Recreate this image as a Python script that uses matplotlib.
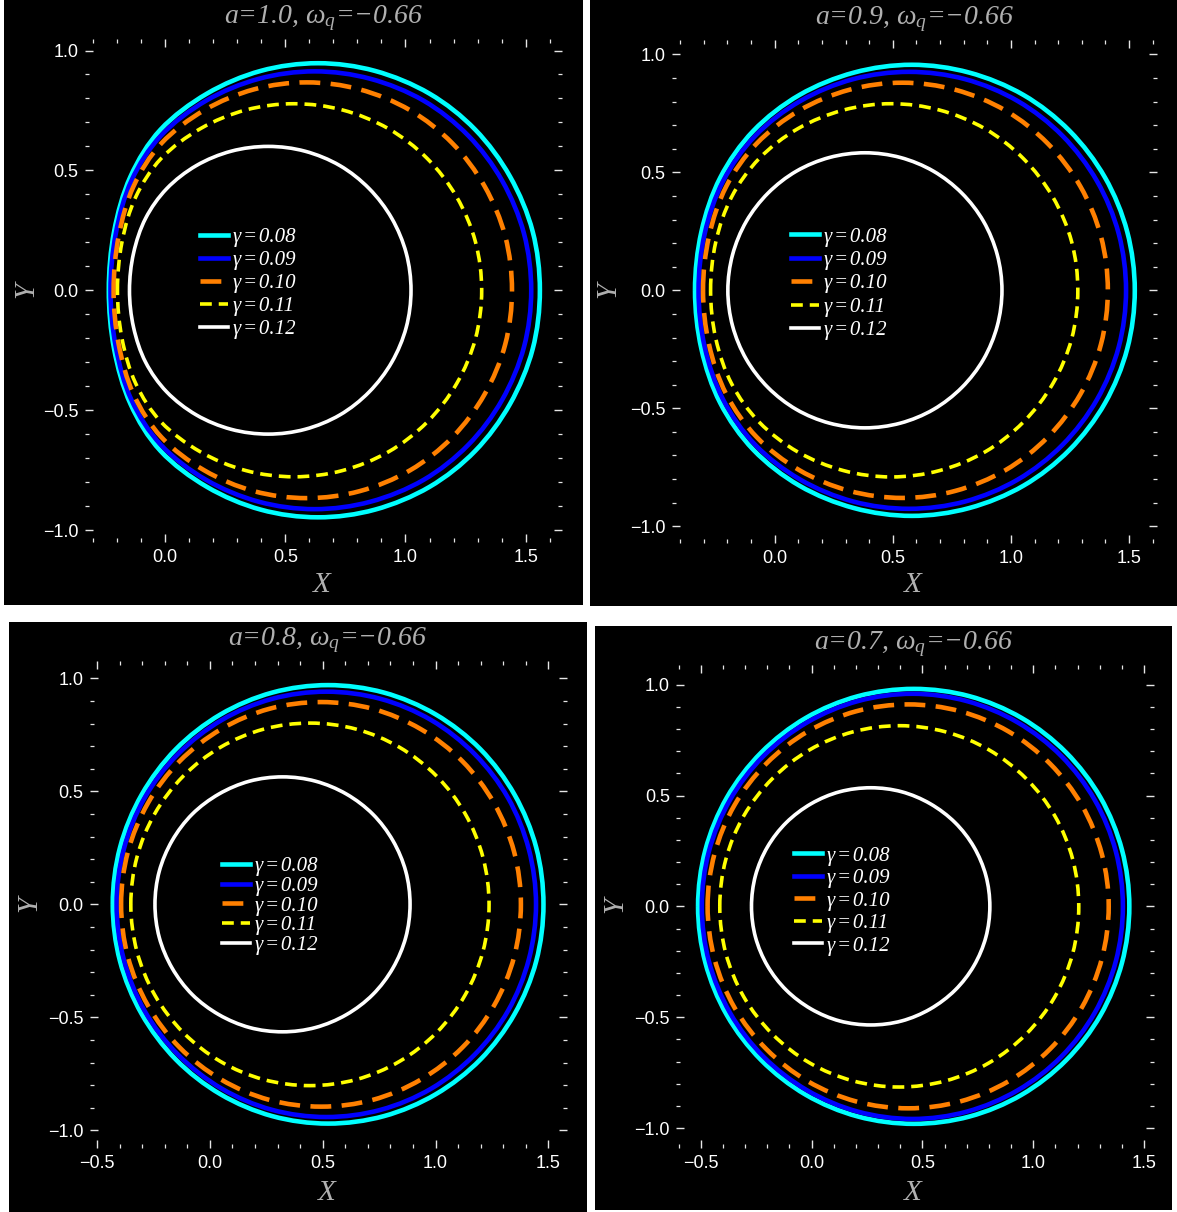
import matplotlib
matplotlib.use("Agg")
import matplotlib.pyplot as plt
from matplotlib.ticker import MultipleLocator, FuncFormatter
from matplotlib.font_manager import FontProperties
from matplotlib.patches import Rectangle, PathPatch
from matplotlib.path import Path
from matplotlib.lines import Line2D

plt.rcParams['mathtext.fontset'] = 'custom'
plt.rcParams['mathtext.rm'] = 'Liberation Serif:italic'
plt.rcParams['mathtext.it'] = 'Liberation Serif:italic'
plt.rcParams['lines.scale_dashes'] = False

# ---------------- data ----------------
gammas = ['0.08', '0.09', '0.10', '0.11', '0.12']
spins = ['1.0', '0.9', '0.8', '0.7']
omega_q = '\u22120.66'

# upper half (Y >= 0) of each shadow outline, from the rightmost to the leftmost point
a10_x = [
    [1.559, 1.529, 1.435, 1.290, 1.100, 0.873, 0.636, 0.398, 0.174, -0.019, -0.144, -0.212, -0.234],
    [1.523, 1.493, 1.402, 1.261, 1.075, 0.854, 0.622, 0.390, 0.171, -0.017, -0.140, -0.205, -0.227],
    [1.443, 1.415, 1.329, 1.195, 1.019, 0.809, 0.590, 0.370, 0.163, -0.015, -0.131, -0.193, -0.214],
    [1.317, 1.291, 1.213, 1.090, 0.929, 0.738, 0.537, 0.336, 0.147, -0.016, -0.122, -0.179, -0.198],
    [1.023, 1.003, 0.943, 0.849, 0.727, 0.582, 0.429, 0.275, 0.130, 0.007, -0.081, -0.131, -0.148],
]
a10_y = [
    [0, 0.245, 0.474, 0.670, 0.820, 0.915, 0.947, 0.915, 0.820, 0.670, 0.474, 0.245, 0],
    [0, 0.236, 0.457, 0.645, 0.791, 0.882, 0.913, 0.882, 0.791, 0.645, 0.457, 0.236, 0],
    [0, 0.225, 0.434, 0.613, 0.751, 0.838, 0.867, 0.838, 0.751, 0.613, 0.434, 0.225, 0],
    [0, 0.202, 0.389, 0.550, 0.674, 0.752, 0.778, 0.752, 0.674, 0.550, 0.389, 0.202, 0],
    [0, 0.155, 0.300, 0.424, 0.520, 0.580, 0.600, 0.580, 0.520, 0.424, 0.300, 0.155, 0],
]
a09_x = [
    [1.524, 1.492, 1.398, 1.248, 1.053, 0.823, 0.580, 0.336, 0.105, -0.090, -0.230, -0.310, -0.337],
    [1.487, 1.456, 1.364, 1.218, 1.029, 0.806, 0.569, 0.332, 0.108, -0.082, -0.218, -0.296, -0.322],
    [1.410, 1.381, 1.294, 1.156, 0.977, 0.765, 0.541, 0.316, 0.104, -0.076, -0.205, -0.278, -0.303],
    [1.283, 1.257, 1.177, 1.052, 0.890, 0.698, 0.494, 0.291, 0.098, -0.065, -0.182, -0.249, -0.271],
    [0.962, 0.942, 0.884, 0.792, 0.672, 0.532, 0.382, 0.232, 0.092, -0.028, -0.120, -0.178, -0.198],
]
a09_y = [
    [0, 0.248, 0.478, 0.676, 0.828, 0.923, 0.956, 0.923, 0.828, 0.676, 0.478, 0.248, 0],
    [0, 0.240, 0.463, 0.655, 0.802, 0.895, 0.926, 0.895, 0.802, 0.655, 0.463, 0.240, 0],
    [0, 0.228, 0.440, 0.622, 0.762, 0.850, 0.880, 0.850, 0.762, 0.622, 0.440, 0.228, 0],
    [0, 0.205, 0.396, 0.559, 0.685, 0.764, 0.791, 0.764, 0.685, 0.559, 0.396, 0.205, 0],
    [0, 0.151, 0.292, 0.412, 0.505, 0.563, 0.583, 0.563, 0.505, 0.412, 0.292, 0.151, 0],
]
a08_x = [
    [1.478, 1.446, 1.350, 1.199, 1.001, 0.771, 0.524, 0.277, 0.047, -0.151, -0.302, -0.398, -0.430],
    [1.445, 1.413, 1.321, 1.173, 0.981, 0.757, 0.516, 0.275, 0.052, -0.141, -0.289, -0.381, -0.413],
    [1.378, 1.348, 1.259, 1.119, 0.935, 0.722, 0.493, 0.263, 0.050, -0.134, -0.274, -0.363, -0.393],
    [1.237, 1.210, 1.131, 1.005, 0.840, 0.649, 0.444, 0.238, 0.047, -0.118, -0.244, -0.323, -0.350],
    [0.887, 0.868, 0.811, 0.722, 0.605, 0.468, 0.322, 0.176, 0.040, -0.078, -0.167, -0.224, -0.243],
]
a08_y = [
    [0, 0.251, 0.485, 0.686, 0.840, 0.937, 0.970, 0.937, 0.840, 0.686, 0.485, 0.251, 0],
    [0, 0.244, 0.471, 0.665, 0.815, 0.909, 0.941, 0.909, 0.815, 0.665, 0.471, 0.244, 0],
    [0, 0.232, 0.448, 0.633, 0.775, 0.865, 0.895, 0.865, 0.775, 0.633, 0.448, 0.232, 0],
    [0, 0.208, 0.401, 0.567, 0.695, 0.775, 0.802, 0.775, 0.695, 0.567, 0.401, 0.208, 0],
    [0, 0.146, 0.282, 0.399, 0.488, 0.545, 0.564, 0.545, 0.488, 0.399, 0.282, 0.146, 0],
]
a07_x = [
    [1.433, 1.400, 1.303, 1.148, 0.947, 0.712, 0.461, 0.209, -0.026, -0.227, -0.382, -0.479, -0.512],
    [1.404, 1.372, 1.277, 1.126, 0.929, 0.700, 0.455, 0.209, -0.020, -0.217, -0.368, -0.463, -0.495],
    [1.340, 1.309, 1.219, 1.075, 0.888, 0.670, 0.436, 0.201, -0.017, -0.204, -0.348, -0.438, -0.469],
    [1.205, 1.178, 1.097, 0.968, 0.800, 0.605, 0.396, 0.186, -0.009, -0.177, -0.306, -0.387, -0.414],
    [0.804, 0.786, 0.732, 0.647, 0.535, 0.406, 0.267, 0.127, -0.002, -0.114, -0.199, -0.253, -0.271],
]
a07_y = [
    [0, 0.254, 0.491, 0.694, 0.850, 0.948, 0.981, 0.948, 0.850, 0.694, 0.491, 0.254, 0],
    [0, 0.248, 0.480, 0.678, 0.830, 0.926, 0.959, 0.926, 0.830, 0.678, 0.480, 0.248, 0],
    [0, 0.236, 0.456, 0.644, 0.789, 0.880, 0.911, 0.880, 0.789, 0.644, 0.456, 0.236, 0],
    [0, 0.211, 0.408, 0.576, 0.706, 0.787, 0.815, 0.787, 0.706, 0.576, 0.408, 0.211, 0],
    [0, 0.139, 0.268, 0.378, 0.463, 0.517, 0.535, 0.517, 0.463, 0.378, 0.268, 0.139, 0],
]
panel_x = [a10_x, a09_x, a08_x, a07_x]
panel_y = [a10_y, a09_y, a08_y, a07_y]

# ---------------- styles & layout (pixels, top-left origin) ----------------
W, H = 1177, 1212
colors = ['#00ffff', '#0000ff', '#ff8000', '#ffff00', '#ffffff']
widths = [3.3, 3.3, 3.3, 2.6, 2.6]
dashes = [None, None, (15, 7.5), (8.5, 5), None]
text_gray = '#b0b0b0'

bg_boxes = [(4, 0, 583, 604.5), (590, 0, 1177, 606), (9, 622.3, 587.3, 1212), (594.7, 626, 1172, 1210)]
frames = [(85, 39, 562, 542), (671.6, 40, 1157, 543), (89.5, 660.7, 567.4, 1148), (676.1, 664.5, 1153.5, 1148)]
xlims = [(-0.333, 1.651), (-0.436, 1.618), (-0.533, 1.584), (-0.611, 1.542)]
ylims = [(-1.050, 1.048), (-1.071, 1.061), (-1.078, 1.078), (-1.090, 1.091)]
title_pos = [(323, 18), (914, 19), (327, 640), (913, 644)]
xlab_pos = [(322, 585), (913, 585), (327, 1193), (913, 1193)]
ylab_pos = [(26, 290), (608, 290), (29, 904), (615, 905)]
leg_pos = [(200, 227.5), (791, 227), (222, 856.5), (794, 846)]
leg_spacing = [0.163, 0.185, 0.01, 0.14]


def smooth_closed(px, py):
    """Smooth closed outline through the read points (drawn as cubic Bezier pieces)."""
    n = len(px)
    verts = [(px[0], py[0])]
    codes = [Path.MOVETO]
    for i in range(n):
        a, b, c, d = (i - 1) % n, i, (i + 1) % n, (i + 2) % n
        verts.append((px[b] + (px[c] - px[a]) / 6.0, py[b] + (py[c] - py[a]) / 6.0))
        verts.append((px[c] - (px[d] - px[b]) / 6.0, py[c] - (py[d] - py[b]) / 6.0))
        verts.append((px[c], py[c]))
        codes += [Path.CURVE4] * 3
    return Path(verts, codes)


fig = plt.figure(figsize=(W / 100, H / 100), dpi=100, facecolor='white')

for (l, t, r, b) in bg_boxes:
    fig.patches.append(Rectangle((l / W, 1 - b / H), (r - l) / W, (b - t) / H,
                                 transform=fig.transFigure, facecolor='black',
                                 edgecolor='none', zorder=-5))

fmt = FuncFormatter(lambda v, p: ('%.1f' % (0.0 if abs(v) < 1e-9 else v)).replace('-', '\u2212'))
leg_font = FontProperties(family='Liberation Serif', style='italic', size=15)

for k in range(4):
    l, t, r, b = frames[k]
    ax = fig.add_axes([l / W, 1 - b / H, (r - l) / W, (b - t) / H])
    ax.set_facecolor('black')
    for s in ax.spines.values():
        s.set_visible(False)
    handles = []
    for i in range(5):
        xs = panel_x[k][i]
        ys = panel_y[k][i]
        # closed outline: upper half (mirror-symmetric about Y=0) + lower half
        cx = xs[::-1] + xs[1:-1]
        cy = ys[::-1] + [-v for v in ys[1:-1]]
        ls = '-' if dashes[i] is None else (0, dashes[i])
        patch = PathPatch(smooth_closed(cx, cy), fill=False, edgecolor=colors[i],
                          lw=widths[i], linestyle=ls, joinstyle='round', capstyle='butt',
                          zorder=2 + i)
        ax.add_patch(patch)
        handles.append(Line2D([], [], color=colors[i], lw=widths[i], linestyle=ls,
                              dash_capstyle='butt',
                              label='\u03b3\u200a=\u200a' + gammas[i]))
    ax.set_xlim(*xlims[k])
    ax.set_ylim(*ylims[k])
    ax.xaxis.set_major_locator(MultipleLocator(0.5))
    ax.yaxis.set_major_locator(MultipleLocator(0.5))
    ax.xaxis.set_minor_locator(MultipleLocator(0.1))
    ax.yaxis.set_minor_locator(MultipleLocator(0.1))
    ax.xaxis.set_major_formatter(fmt)
    ax.yaxis.set_major_formatter(fmt)
    ax.tick_params(which='both', direction='in', top=True, right=True,
                   labeltop=False, labelright=False, colors='#e6e6e6')
    ax.tick_params(which='major', length=6, width=1.0)
    ax.tick_params(which='minor', length=3, width=0.9)
    ax.tick_params(axis='y', which='major', pad=4.5)
    ax.tick_params(axis='x', which='major', pad=5)
    for lab in ax.get_xticklabels() + ax.get_yticklabels():
        lab.set_fontfamily('Liberation Sans')
        lab.set_fontsize(13)
        lab.set_color('white')

    lx, ly = leg_pos[k]
    leg = ax.legend(handles=handles, loc='upper left',
                    bbox_to_anchor=(lx / W, 1 - ly / H), bbox_transform=fig.transFigure,
                    frameon=False, prop=leg_font, handlelength=1.35,
                    handletextpad=0.22, labelspacing=leg_spacing[k], borderpad=0,
                    borderaxespad=0)
    for txt in leg.get_texts():
        txt.set_color('white')

    tx, ty = title_pos[k]
    fig.text(tx / W, 1 - ty / H,
             r'$a\text{=' + spins[k] + r', }\omega_{q}\text{=' + omega_q + '}$',
             ha='center', va='center', color=text_gray, fontsize=20)
    xx, xy = xlab_pos[k]
    fig.text(xx / W, 1 - xy / H, 'X', ha='center', va='center', color=text_gray,
             fontsize=21, fontfamily='Liberation Serif', fontstyle='italic')
    yx, yy = ylab_pos[k]
    fig.text(yx / W, 1 - yy / H, 'Y', ha='center', va='center', color=text_gray,
             fontsize=21, fontfamily='Liberation Serif', fontstyle='italic', rotation=90)

fig.savefig('out.png', dpi=100, facecolor='white')
